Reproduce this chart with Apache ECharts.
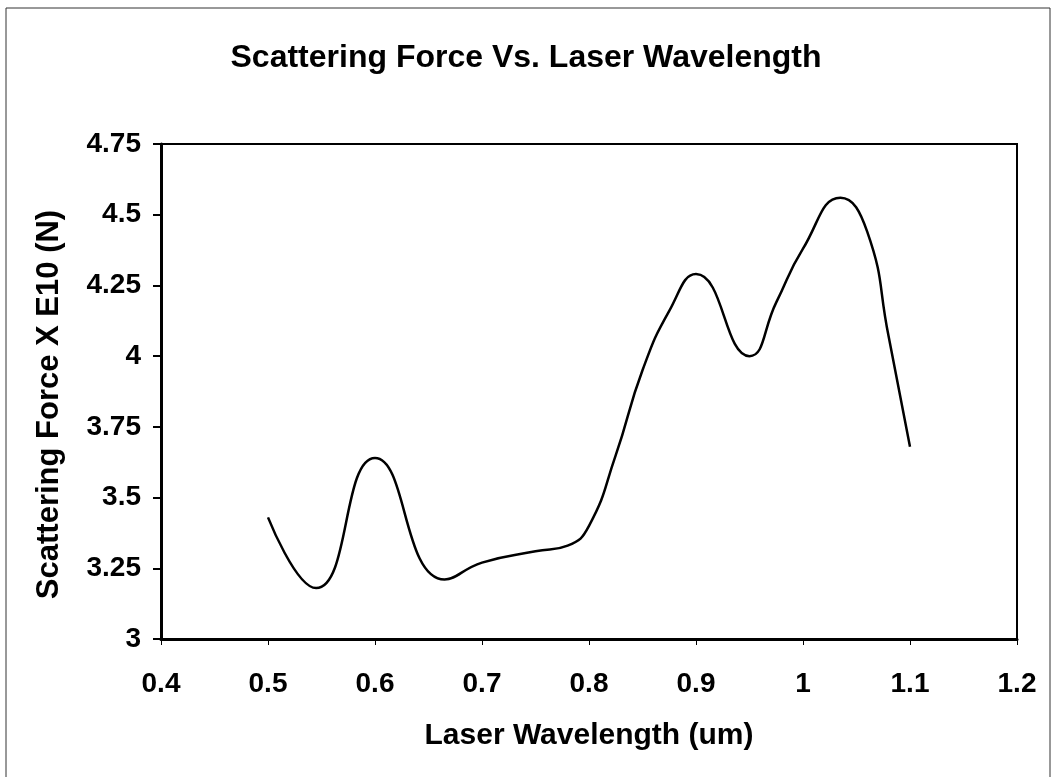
<!DOCTYPE html>
<html>
<head>
<meta charset="utf-8">
<script src="https://cdn.jsdelivr.net/npm/echarts@6/dist/echarts.min.js"></script>
<style>
    html, body { margin: 0; padding: 0; background: #ffffff; }
    #chart { width: 1052px; height: 777px; }
</style>
</head>
<body>
<div id="chart"></div>
<script>
const wavelengths = [0.5, 0.545, 0.6, 0.665, 0.7, 0.75, 0.78, 0.8,
    0.825, 0.85, 0.875, 0.9, 0.95, 0.975, 1.0, 1.035, 1.06, 1.08, 1.1];
const forces = [3.43, 3.18, 3.64, 3.21, 3.27, 3.31, 3.33, 3.40,
    3.65, 3.95, 4.16, 4.29, 4.0, 4.19, 4.38, 4.56, 4.44, 4.07, 3.68];

const chartTitle = "Scattering Force Vs. Laser Wavelength";
const xName = "Laser Wavelength (um)";
const yName = "Scattering Force X E10 (N)";

const FONT = "'Liberation Sans', Arial, sans-serif";

const chart = echarts.init(document.getElementById("chart"));

chart.setOption({
    backgroundColor: "#ffffff",
    animation: false,
    title: {
        text: chartTitle,
        left: "center",
        top: 37,
        textStyle: {
            fontFamily: FONT,
            fontWeight: "bold",
            fontSize: 32,
            color: "#000000"
        }
    },
    graphic: [
        {
            type: "rect",
            shape: { x: 6, y: 8, width: 1044, height: 775 },
            style: { fill: "none", stroke: "#333333", lineWidth: 1 }
        }
    ],
    grid: {
        left: 161,
        right: 35,
        top: 144,
        bottom: 138,
        show: true,
        borderColor: "#000000",
        borderWidth: 2
    },
    xAxis: {
        type: "value",
        min: 0.4,
        max: 1.2,
        interval: 0.1,
        name: xName,
        nameLocation: "middle",
        nameGap: 82,
        nameTextStyle: {
            fontFamily: FONT,
            fontWeight: "bold",
            fontSize: 30,
            color: "#000000"
        },
        axisLine: { show: true, lineStyle: { color: "#000000", width: 3 } },
        axisTick: { show: true, length: 6, lineStyle: { color: "#000000", width: 1 } },
        splitLine: { show: false },
        axisLabel: {
            margin: 31,
            fontFamily: FONT,
            fontWeight: "bold",
            fontSize: 28,
            color: "#000000",
            formatter: v => String(Math.round(v * 10) / 10)
        }
    },
    yAxis: {
        type: "value",
        min: 3,
        max: 4.75,
        interval: 0.25,
        name: yName,
        nameLocation: "middle",
        nameGap: 96,
        nameTextStyle: {
            fontFamily: FONT,
            fontWeight: "bold",
            fontSize: 31,
            color: "#000000",
            padding: [0, 26, 0, 0]
        },
        axisLine: { show: true, lineStyle: { color: "#000000", width: 3 } },
        axisTick: { show: true, length: 8, lineStyle: { color: "#000000", width: 2 } },
        splitLine: { show: false },
        axisLabel: {
            margin: 20,
            fontFamily: FONT,
            fontWeight: "bold",
            fontSize: 28,
            color: "#000000",
            formatter: v => String(Math.round(v * 100) / 100)
        }
    },
    series: [
        {
            type: "line",
            data: wavelengths.map((w, i) => [w, forces[i]]),
            smooth: 0.5,
            symbol: "none",
            lineStyle: { color: "#000000", width: 2.5 }
        }
    ]
});
</script>
</body>
</html>
